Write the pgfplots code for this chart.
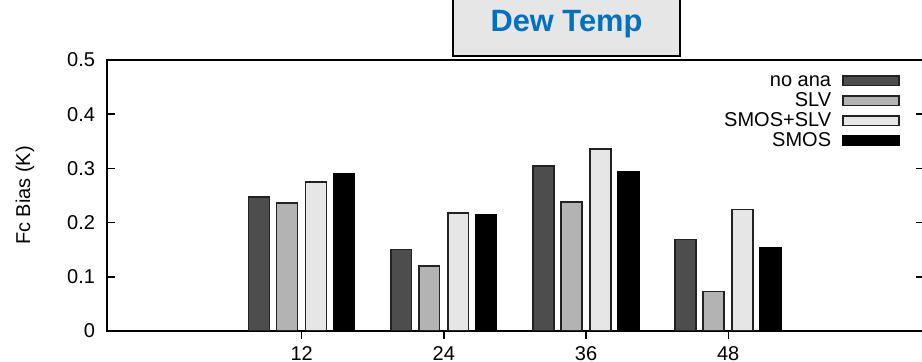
\documentclass[border=0pt]{standalone}
\usepackage{pgfplots}
\pgfplotsset{compat=1.18}
\usepackage{fontspec}
\setmainfont{Liberation Sans}
\definecolor{cNoAna}{HTML}{4D4D4D}
\definecolor{cSLV}{HTML}{B3B3B3}
\definecolor{cSMOSSLV}{HTML}{E6E6E6}
\definecolor{cSMOS}{HTML}{000000}
\definecolor{cTitle}{RGB}{0,112,192}
\definecolor{cBorder}{HTML}{222222}
\begin{document}
\begin{tikzpicture}
\begin{axis}[
  name=ax,
  at={(0pt,0pt)}, anchor=south west,
  scale only axis,
  width=408.5pt, height=135.5pt,
  xmin=-4.43, xmax=64.52,
  ymin=0, ymax=0.5,
  ytick={0,0.1,0.2,0.3,0.4,0.5},
  yticklabels={0,0.1,0.2,0.3,0.4,0.5},
  xtick={12,24,36,48},
  xtick pos=bottom,
  ytick pos=both,
  tick align=inside,
  major tick length=4pt,
  every tick/.style={line width=0.75pt, black},
  axis line style={line width=1pt, black},
  ticklabel style={font=\fontsize{10}{12}\selectfont},
  /pgf/number format/assume math mode=true,
  xticklabel style={yshift=0pt},
  yticklabel style={xshift=-2.5pt},
  ylabel={Fc Bias (K)},
  every axis y label/.style={at={(axis description cs:-0.1003,0.5)}, rotate=90, anchor=center, font=\fontsize{10}{12}\selectfont},
  ybar,
  bar width=10.4pt,
  legend cell align=right,
  legend plot pos=right,
  legend style={draw=none, fill=none, at={(axis description cs:1,1)}, anchor=north east, xshift=-12pt, yshift=-5.2pt, inner sep=0pt, row sep=0pt, font=\fontsize{10}{12}\selectfont, nodes={inner sep=0.5pt, text height=7.2pt, text depth=1.8pt}},
  legend image code/.code={\path (0pt,0pt); \draw[#1, line width=0.75pt] (5pt,-2.4pt) rectangle (33pt,2.4pt);},
]
\addplot[fill=cNoAna, draw=cBorder, line width=0.75pt, bar shift=-21.35pt] coordinates {(12,0.247) (24,0.150) (36,0.304) (48,0.169)};
\addlegendentry{no ana}
\addplot[fill=cSLV, draw=cBorder, line width=0.75pt, bar shift=-7.35pt] coordinates {(12,0.236) (24,0.120) (36,0.238) (48,0.073)};
\addlegendentry{SLV}
\addplot[fill=cSMOSSLV, draw=cBorder, line width=0.75pt, bar shift=7.15pt] coordinates {(12,0.275) (24,0.218) (36,0.336) (48,0.224)};
\addlegendentry{SMOS+SLV}
\addplot[fill=cSMOS, draw=black, line width=0.75pt, bar shift=21.15pt] coordinates {(12,0.290) (24,0.214) (36,0.294) (48,0.154)};
\addlegendentry{SMOS}
\end{axis}
\draw[line width=1pt, black, fill=cSMOSSLV] (173pt,137.5pt) rectangle (286.5pt,176pt);
\node[font=\bfseries\fontsize{15.4}{18}\selectfont, text=cTitle] at (229.75pt,153.5pt) {Dew Temp};
\pgfresetboundingbox
\useasboundingbox (-53.5pt,-15.5pt) rectangle (407.5pt,165.5pt);
\end{tikzpicture}
\end{document}
